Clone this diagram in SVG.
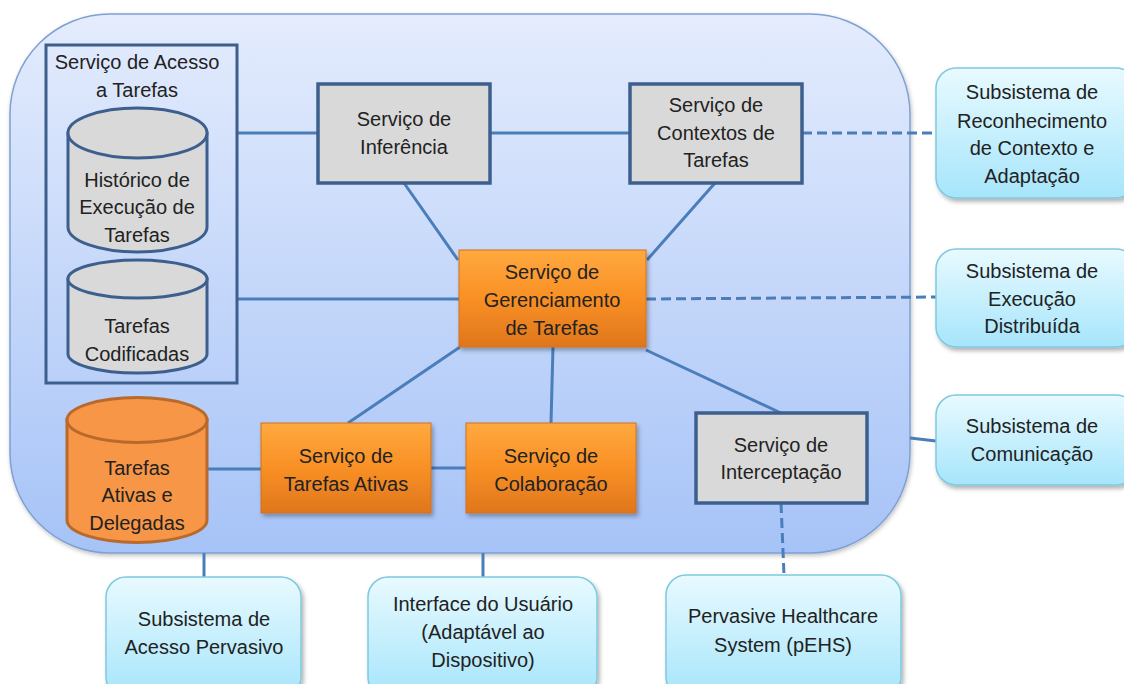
<svg xmlns="http://www.w3.org/2000/svg" width="1124" height="684" viewBox="0 0 1124 684">
<defs>
<linearGradient id="gCont" x1="0" y1="0" x2="0" y2="1">
<stop offset="0" stop-color="#e4ecfd"/>
<stop offset="1" stop-color="#a6c3f7"/>
</linearGradient>
<linearGradient id="gOrange" x1="0" y1="0" x2="0" y2="1">
<stop offset="0" stop-color="#ffa93f"/>
<stop offset="0.5" stop-color="#f99025"/>
<stop offset="1" stop-color="#df761c"/>
</linearGradient>
<linearGradient id="gBlue" x1="0" y1="0" x2="0" y2="1">
<stop offset="0" stop-color="#e8faff"/>
<stop offset="1" stop-color="#a6e5fb"/>
</linearGradient>
<filter id="sh" x="-10%" y="-10%" width="130%" height="130%">
<feDropShadow dx="2" dy="3" stdDeviation="2" flood-color="#000" flood-opacity="0.3"/>
</filter>
<filter id="shC" x="-5%" y="-5%" width="110%" height="110%">
<feDropShadow dx="1" dy="2" stdDeviation="2" flood-color="#000" flood-opacity="0.25"/>
</filter>
</defs>
<style>
text{font-family:"Liberation Sans",Arial,sans-serif;font-size:20px;fill:#222;text-anchor:middle}
.grey{fill:#d9d9d9;stroke:#3d5f8e;stroke-width:3.5}
.cyl{fill:#d9d9d9;stroke:#3d5f8e;stroke-width:3}
.ocyl{fill:#f79646;stroke:#b8692c;stroke-width:3}
.orange{fill:url(#gOrange);stroke:#d0721f;stroke-width:1;filter:url(#sh)}
.blue{fill:url(#gBlue);stroke:#7fc9df;stroke-width:1.5;filter:url(#sh)}
.ln{stroke:#4a7ebb;stroke-width:3;fill:none}
.dash{stroke-dasharray:10 5}
</style>
<rect width="1124" height="684" fill="#ffffff"/>

<g id="container">
<rect x="10" y="14" width="900" height="539" rx="100" ry="100" fill="url(#gCont)" stroke="#7ea0d3" stroke-width="1.5" filter="url(#shC)"/>
</g>

<g id="connectors">
<line class="ln" x1="237" y1="133" x2="318" y2="133"/>
<line class="ln" x1="490" y1="133" x2="630" y2="133"/>
<line class="ln dash" x1="802" y1="133" x2="936" y2="133"/>
<line class="ln" x1="237" y1="299" x2="459" y2="299"/>
<line class="ln dash" x1="646" y1="299" x2="936" y2="297"/>
<line class="ln" x1="404" y1="183" x2="458" y2="260"/>
<line class="ln" x1="715" y1="183" x2="647" y2="260"/>
<line class="ln" x1="460" y1="347" x2="348" y2="423"/>
<line class="ln" x1="553" y1="347" x2="551" y2="423"/>
<line class="ln" x1="646" y1="350" x2="781" y2="413"/>
<line class="ln" x1="207" y1="469" x2="261" y2="469"/>
<line class="ln" x1="431" y1="468" x2="466" y2="468"/>
<line class="ln" x1="910" y1="438" x2="936" y2="441"/>
<line class="ln" x1="204" y1="553" x2="204" y2="577"/>
<line class="ln" x1="483" y1="553" x2="483" y2="577"/>
<line class="ln dash" x1="781" y1="503" x2="784" y2="575"/>
</g>

<g id="acesso-tarefas">
<rect x="46" y="45" width="191" height="338" fill="none" stroke="#3d5f8e" stroke-width="3"/>
<text x="137" y="69">Serviço de Acesso</text>
<text x="137" y="97">a Tarefas</text>
</g>

<g id="historico">
<path class="cyl" d="M68,133 L68,227 A69.5,25 0 0 0 207,227 L207,133 Z"/>
<ellipse class="cyl" cx="137.5" cy="133" rx="69.5" ry="25"/>
<text x="137" y="187">Histórico de</text>
<text x="137" y="214">Execução de</text>
<text x="137" y="242">Tarefas</text>
</g>

<g id="codificadas">
<path class="cyl" d="M68,279 L68,354 A69.5,19 0 0 0 207,354 L207,279 Z"/>
<ellipse class="cyl" cx="137.5" cy="279" rx="69.5" ry="19"/>
<text x="137" y="333">Tarefas</text>
<text x="137" y="361">Codificadas</text>
</g>

<g id="ativas-delegadas">
<path class="ocyl" d="M67,420 L67,520 A70,22.5 0 0 0 207,520 L207,420 Z"/>
<ellipse class="ocyl" cx="137" cy="420" rx="70" ry="22.5"/>
<text x="137" y="475">Tarefas</text>
<text x="137" y="502">Ativas e</text>
<text x="137" y="530">Delegadas</text>
</g>

<g id="inferencia">
<rect class="grey" x="318" y="84" width="172" height="99"/>
<text x="404" y="126">Serviço de</text>
<text x="404" y="154">Inferência</text>
</g>

<g id="contextos">
<rect class="grey" x="630" y="84" width="172" height="99"/>
<text x="716" y="112">Serviço de</text>
<text x="716" y="140">Contextos de</text>
<text x="716" y="167">Tarefas</text>
</g>

<g id="gerenciamento">
<rect class="orange" x="459" y="250" width="187" height="97"/>
<text x="552" y="279">Serviço de</text>
<text x="552" y="307">Gerenciamento</text>
<text x="552" y="335">de Tarefas</text>
</g>

<g id="tarefas-ativas">
<rect class="orange" x="261" y="423" width="170" height="90"/>
<text x="346" y="463">Serviço de</text>
<text x="346" y="491">Tarefas Ativas</text>
</g>

<g id="colaboracao">
<rect class="orange" x="466" y="423" width="170" height="90"/>
<text x="551" y="463">Serviço de</text>
<text x="551" y="491">Colaboração</text>
</g>

<g id="interceptacao">
<rect class="grey" x="696" y="413" width="171" height="90"/>
<text x="781" y="452">Serviço de</text>
<text x="781" y="479">Interceptação</text>
</g>

<g id="reconhecimento">
<rect class="blue" x="936" y="68" width="200" height="130" rx="20" ry="20"/>
<text x="1032" y="99">Subsistema de</text>
<text x="1032" y="128">Reconhecimento</text>
<text x="1032" y="155">de Contexto e</text>
<text x="1032" y="183">Adaptação</text>
</g>

<g id="execucao">
<rect class="blue" x="936" y="249" width="200" height="98" rx="20" ry="20"/>
<text x="1032" y="278">Subsistema de</text>
<text x="1032" y="306">Execução</text>
<text x="1032" y="333">Distribuída</text>
</g>

<g id="comunicacao">
<rect class="blue" x="936" y="395" width="200" height="90" rx="20" ry="20"/>
<text x="1032" y="433">Subsistema de</text>
<text x="1032" y="461">Comunicação</text>
</g>

<g id="acesso-pervasivo">
<rect class="blue" x="106" y="577" width="195" height="120" rx="20" ry="20"/>
<text x="204" y="626">Subsistema de</text>
<text x="204" y="654">Acesso Pervasivo</text>
</g>

<g id="interface-usuario">
<rect class="blue" x="368" y="577" width="229" height="120" rx="20" ry="20"/>
<text x="483" y="611">Interface do Usuário</text>
<text x="483" y="639">(Adaptável ao</text>
<text x="483" y="667">Dispositivo)</text>
</g>

<g id="pehs">
<rect class="blue" x="666" y="575" width="235" height="122" rx="20" ry="20"/>
<text x="783" y="623">Pervasive Healthcare</text>
<text x="783" y="652">System (pEHS)</text>
</g>
</svg>
